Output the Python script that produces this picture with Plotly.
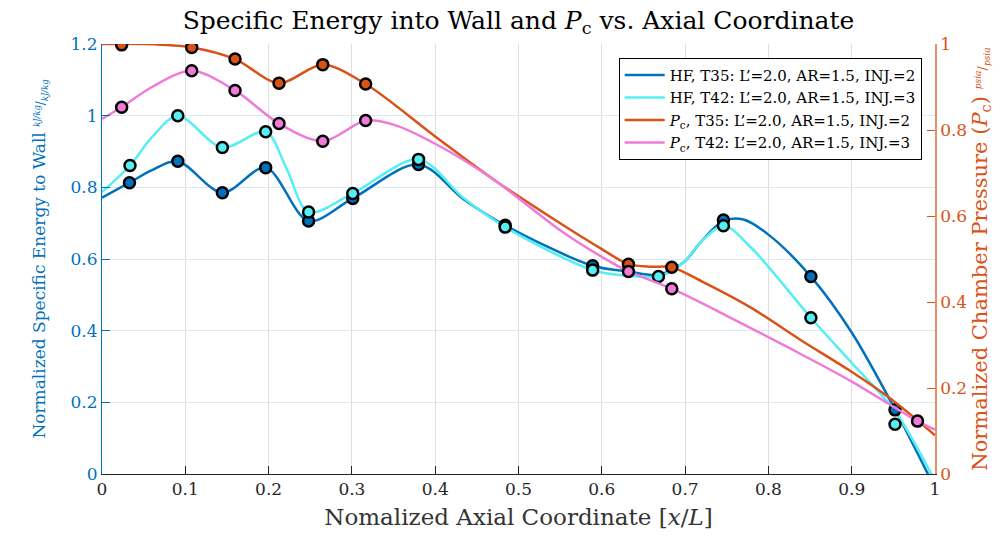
import plotly.graph_objects as go

# ---- measured points (markers) ----
x_hf35 = [0.033, 0.091, 0.1445, 0.1965, 0.248, 0.301, 0.380, 0.484, 0.589, 0.746, 0.851, 0.952]
y_hf35 = [0.813, 0.873, 0.785, 0.855, 0.706, 0.769, 0.864, 0.694, 0.581, 0.709, 0.551, 0.179]

x_hf42 = [0.0336, 0.091, 0.1445, 0.1965, 0.248, 0.301, 0.380, 0.484, 0.589, 0.668, 0.746, 0.851, 0.952]
y_hf42 = [0.861, 1.000, 0.911, 0.955, 0.731, 0.783, 0.878, 0.689, 0.569, 0.551, 0.693, 0.436, 0.139]

x_pc35 = [0.0236, 0.1077, 0.1597, 0.2125, 0.265, 0.3165, 0.632, 0.684]
y_pc35 = [0.998, 0.992, 0.965, 0.909, 0.952, 0.907, 0.488, 0.481]

x_pc42 = [0.0236, 0.1077, 0.1597, 0.2125, 0.265, 0.3165, 0.632, 0.684, 0.979]
y_pc42 = [0.853, 0.938, 0.892, 0.815, 0.774, 0.822, 0.471, 0.431, 0.123]

# ---- fitted curves ----
fit_x_hf35 = [0, 0.033, 0.06, 0.091, 0.1445, 0.1965, 0.248, 0.301, 0.38, 0.434, 0.484,
              0.589, 0.632, 0.668, 0.698, 0.718, 0.746, 0.77, 0.80, 0.851, 0.90, 0.952, 1.0]
fit_y_hf35 = [0.771, 0.813, 0.848, 0.873, 0.785, 0.855, 0.706, 0.769, 0.864, 0.767, 0.694,
              0.581, 0.565, 0.556, 0.59, 0.645, 0.706, 0.71, 0.668, 0.551, 0.395, 0.18, -0.04]

fit_x_hf42 = [0, 0.0336, 0.06, 0.091, 0.1445, 0.1965, 0.222, 0.248, 0.301, 0.38, 0.434, 0.484,
              0.589, 0.632, 0.668, 0.698, 0.718, 0.746, 0.78, 0.851, 0.9, 0.952, 1.0]
fit_y_hf42 = [0.787, 0.861, 0.94, 1.0, 0.911, 0.955, 0.85, 0.731, 0.783, 0.878, 0.77, 0.689,
              0.569, 0.553, 0.551, 0.59, 0.645, 0.693, 0.63, 0.436, 0.31, 0.175, -0.02]

fit_x_pc35 = [0, 0.05, 0.1077, 0.1597, 0.2125, 0.265, 0.3165, 0.40, 0.47, 0.55, 0.60, 0.632, 0.66,
              0.684, 0.72, 0.778, 0.84, 0.898, 0.946, 1.0]
fit_y_pc35 = [1.0, 1.0, 0.992, 0.965, 0.909, 0.952, 0.907, 0.785, 0.685, 0.583, 0.523, 0.488, 0.482,
              0.481, 0.448, 0.388, 0.31, 0.24, 0.176, 0.09]

fit_x_pc42 = [0, 0.0236, 0.06, 0.1077, 0.1597, 0.2125, 0.265, 0.3165, 0.35, 0.40, 0.47, 0.55, 0.60,
              0.632, 0.684, 0.75, 0.826, 0.9, 0.979, 1.0]
fit_y_pc42 = [0.826, 0.853, 0.9, 0.938, 0.892, 0.815, 0.774, 0.822, 0.8125, 0.768, 0.685, 0.567, 0.505,
              0.471, 0.431, 0.368, 0.292, 0.215, 0.123, 0.103]

x_ticks = [0, 0.1, 0.2, 0.3, 0.4, 0.5, 0.6, 0.7, 0.8, 0.9, 1]
x_tick_text = ["0", "0.1", "0.2", "0.3", "0.4", "0.5", "0.6", "0.7", "0.8", "0.9", "1"]
yl_ticks = [0, 0.2, 0.4, 0.6, 0.8, 1.0, 1.2]
yl_tick_text = ["0", "0.2", "0.4", "0.6", "0.8", "1", "1.2"]
yr_ticks = [0, 0.2, 0.4, 0.6, 0.8, 1.0]
yr_tick_text = ["0", "0.2", "0.4", "0.6", "0.8", "1"]

names = [
    "HF, T35: L\u2019=2.0, AR=1.5, INJ.=2",
    "HF, T42: L\u2019=2.0, AR=1.5, INJ.=3",
    "<i>P</i><sub>c</sub>, T35: L\u2019=2.0, AR=1.5, INJ.=2",
    "<i>P</i><sub>c</sub>, T42: L\u2019=2.0, AR=1.5, INJ.=3",
]

BLUE = "#0072BD"
CYAN = "#55EEF2"
ORANGE = "#D95319"
PINK = "#F07AD8"
FONT = "DejaVu Serif"

series = [
    (fit_x_hf35, fit_y_hf35, x_hf35, y_hf35, BLUE, "y"),
    (fit_x_hf42, fit_y_hf42, x_hf42, y_hf42, CYAN, "y"),
    (fit_x_pc35, fit_y_pc35, x_pc35, y_pc35, ORANGE, "y2"),
    (fit_x_pc42, fit_y_pc42, x_pc42, y_pc42, PINK, "y2"),
]

fig = go.Figure()

for (fx, fy, mx, my, col, ax), nm in zip(series, names):
    fig.add_trace(go.Scatter(
        x=fx, y=fy, mode="lines", name=nm, yaxis=ax,
        line=dict(color=col, width=2.5, shape="spline", smoothing=0.9),
    ))

for (fx, fy, mx, my, col, ax), nm in zip(series, names):
    fig.add_trace(go.Scatter(
        x=mx, y=my, mode="markers", yaxis=ax, showlegend=False,
        marker=dict(color=col, size=11, line=dict(color="black", width=2.5)),
    ))

fig.update_layout(
    width=1008, height=538,
    margin=dict(l=102, r=73, t=44, b=62),
    paper_bgcolor="white", plot_bgcolor="white",
    font=dict(family=FONT, size=17, color="#262626"),
    title=dict(
        text="Specific Energy into Wall and <i>P</i><sub>c</sub> vs. Axial Coordinate",
        x=(102 + 935) / 2 / 1008, xanchor="center", y=0.962, yanchor="middle",
        font=dict(family=FONT, size=25, color="black"),
    ),
    showlegend=True,
    legend=dict(
        x=0.984, y=0.968, xanchor="right", yanchor="top",
        bgcolor="white", bordercolor="black", borderwidth=1,
        font=dict(family=FONT, size=15, color="black"),
        tracegroupgap=0, itemwidth=40,
    ),
    xaxis=dict(
        range=[0, 1], tickvals=x_ticks, ticktext=x_tick_text,
        showgrid=True, gridcolor="#DFDFDF", gridwidth=1,
        zeroline=False, showline=True, linecolor="#262626", linewidth=1,
        ticks="inside", ticklen=8, tickcolor="#262626",
        tickfont=dict(family=FONT, size=17, color="#262626"),
        title=dict(text="Nomalized Axial Coordinate [<i>x</i>/<i>L</i>]",
                   font=dict(family=FONT, size=23, color="#333333"), standoff=10),
    ),
    yaxis=dict(
        range=[0, 1.2], tickvals=yl_ticks, ticktext=yl_tick_text,
        showgrid=True, gridcolor="#DDEAF4", gridwidth=1,
        zeroline=False, showline=True, linecolor=BLUE, linewidth=1,
        ticks="inside", ticklen=8, tickcolor=BLUE,
        tickfont=dict(family=FONT, size=17, color=BLUE),
        title=dict(
            text="Normalized Specific Energy to Wall "
                 "<span style='font-size:12px'><sup><i>kJ/kg</i></sup>/<sub><i>kJ/kg</i></sub></span>",
            font=dict(family=FONT, size=17, color=BLUE), standoff=20),
    ),
    yaxis2=dict(
        range=[0, 1], tickvals=yr_ticks, ticktext=yr_tick_text,
        overlaying="y", side="right", anchor="x",
        showgrid=False, zeroline=False, showline=True,
        linecolor="rgba(217,83,25,0.65)", linewidth=1.5,
        ticks="inside", ticklen=8, tickcolor=ORANGE,
        tickfont=dict(family=FONT, size=17, color=ORANGE),
        title=dict(
            text="Normalized Chamber Pressure (<i>P</i><sub>c</sub>) "
                 "<span style='font-size:13px'><sup><i>psia</i></sup>/<sub><i>psia</i></sub></span>",
            font=dict(family=FONT, size=21, color=ORANGE), standoff=6),
    ),
)

fig.write_html("out.html")
